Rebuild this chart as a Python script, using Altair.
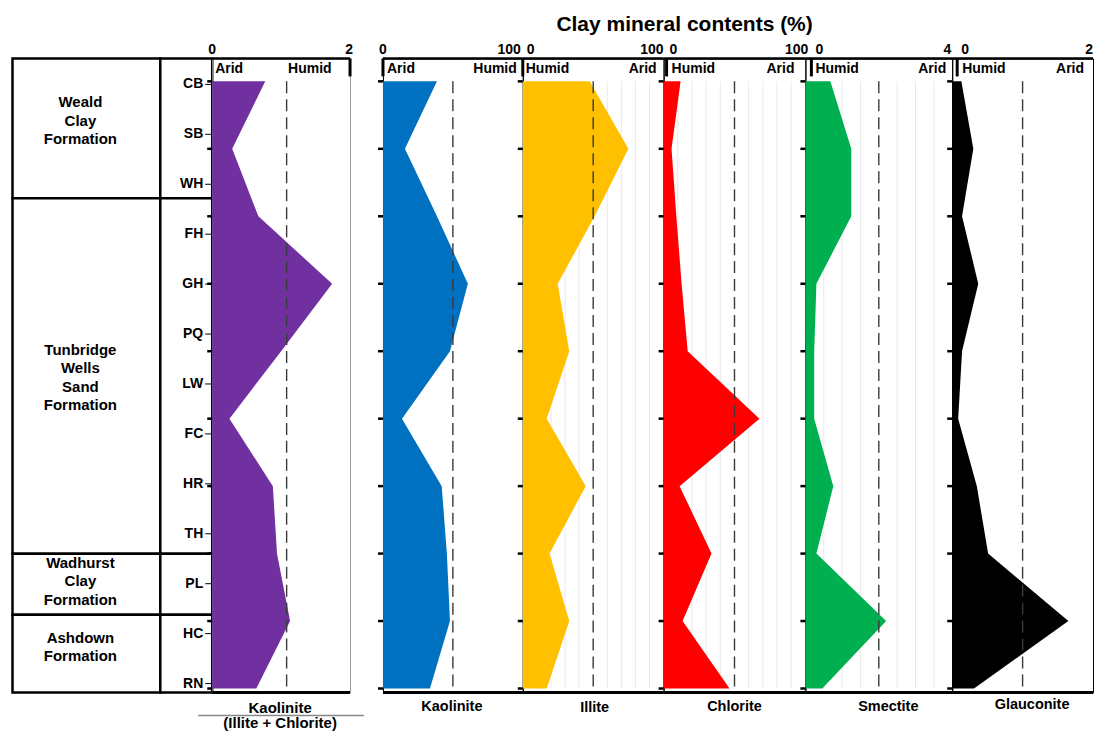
import altair as alt
import pandas as pd

FONT = "Liberation Sans"
H = 635

# ---------------- data ----------------
samples = ["CB", "SB", "WH", "FH", "GH", "PQ", "LW", "FC", "HR", "TH", "PL", "HC", "RN"]
sample_rows = list(range(13))
levels = list(range(10))

kao_ratio = [0.77, 0.29, 0.67, 1.74, 1.00, 0.25, 0.88, 0.94, 1.13, 0.64]
kaolinite = [38.6, 15.7, 38.6, 60.7, 47.9, 13.6, 42.0, 45.7, 47.9, 33.6]
illite = [47.5, 75.0, 51.0, 24.8, 33.0, 17.0, 44.7, 19.0, 33.0, 17.0]
chlorite = [12.0, 5.6, 9.0, 12.7, 17.0, 67.6, 11.3, 33.8, 13.4, 46.5]
smectite = [0.68, 1.25, 1.25, 0.30, 0.24, 0.24, 0.76, 0.30, 2.20, 0.46]
glauconite = [0.13, 0.30, 0.14, 0.37, 0.14, 0.085, 0.35, 0.51, 1.65, 0.31]

formation_text = ["Weald\nClay\nFormation", "Tunbridge\nWells\nSand\nFormation",
                  "Wadhurst\nClay\nFormation", "Ashdown\nFormation"]
formation_top = [-0.52, 2.28, 9.40, 10.62]
formation_bottom = [2.28, 9.40, 10.62, 12.18]
formation_first_line = [0.36, 5.32, 9.58, 11.08]

illite_grid = [10, 20, 30, 40, 60, 70, 80, 90]
chlorite_grid = [10, 20, 30, 40, 60, 70, 80, 90]
smectite_grid = [0.5, 1.0, 1.5, 2.5, 3.0, 3.5]

Y_LVL = dict(domain=[-0.34, 9.06], reverse=True, nice=False, zero=False)
Y_SMP = dict(domain=[-0.52, 12.18], reverse=True, nice=False, zero=False)

one = pd.DataFrame({"k": [0]})


def tstyle(**kw):
    d = dict(font=FONT, fontWeight="bold", fontSize=14, color="black")
    d.update(kw)
    return d


# ---------------- formation column ----------------
fdf = pd.DataFrame({"label": formation_text, "top": formation_top,
                    "bottom": formation_bottom, "first": formation_first_line})
f_boxes = alt.Chart(fdf).mark_rect(fill="white", stroke="black", strokeWidth=2.5).encode(
    x=alt.value(0), x2=alt.value(148),
    y=alt.Y("top:Q", scale=alt.Scale(**Y_SMP), axis=None), y2="bottom:Q")
f_text = alt.Chart(fdf).mark_text(lineBreak="\n", lineHeight=18.5, align="center",
                                  baseline="middle", **tstyle(fontSize=15)).encode(
    x=alt.value(68), y=alt.Y("first:Q", scale=alt.Scale(**Y_SMP), axis=None), text="label:N")
formation_panel = alt.layer(f_boxes, f_text).properties(width=148, height=H)

# ---------------- sample column ----------------
sdf = pd.DataFrame({"sample": samples, "row": sample_rows})
s_boxes = alt.Chart(fdf).mark_rect(fill="white", stroke="black", strokeWidth=2.5).encode(
    x=alt.value(0), x2=alt.value(52),
    y=alt.Y("top:Q", scale=alt.Scale(**Y_SMP), axis=None), y2="bottom:Q")
s_tick = alt.Chart(sdf).mark_rule(color="black", strokeWidth=1).encode(
    x=alt.value(45), x2=alt.value(52),
    y=alt.Y("row:Q", scale=alt.Scale(**Y_SMP), axis=None))
s_text = alt.Chart(sdf).mark_text(align="right", baseline="middle", **tstyle()).encode(
    x=alt.value(43), y=alt.Y("row:Q", scale=alt.Scale(**Y_SMP), axis=None), text="sample:N")
sample_panel = alt.layer(s_boxes, s_tick, s_text).properties(width=52, height=H)


# ---------------- mineral panels ----------------
def note(text, x, y, align="center", baseline="middle", **kw):
    return alt.Chart(one).mark_text(text=text, align=align, baseline=baseline, **tstyle(**kw)).encode(
        x=alt.value(x), y=alt.value(y))


def mineral_panel(values, xmax, thr, color, width, scale_labels, headers, seps, bottom_notes,
                  grid=None, stroke="black", extra=None):
    xs = alt.Scale(domain=[0, xmax], nice=False, zero=True)
    ys = alt.Scale(**Y_LVL)
    layers = []
    if grid:
        gdf = pd.DataFrame({"g": grid})
        layers.append(alt.Chart(gdf).mark_rule(color="#e9e9e9", strokeWidth=1).encode(
            x=alt.X("g:Q", scale=xs, axis=None),
            y=alt.YDatum(0, scale=ys, axis=None), y2=alt.Y2Datum(9)))
    df = pd.DataFrame({"level": levels, "value": values})
    layers.append(alt.Chart(df).mark_area(orient="horizontal", color=color, opacity=1).encode(
        x=alt.X("value:Q", scale=xs, stack=None, axis=None),
        y=alt.Y("level:Q", scale=ys, axis=None)))
    # depth ticks on the left edge
    layers.append(alt.Chart(df).mark_rule(color="black", strokeWidth=2.5).encode(
        x=alt.value(-5), x2=alt.value(0), y=alt.Y("level:Q", scale=ys, axis=None)))
    tdf = pd.DataFrame({"t": [thr]})
    layers.append(alt.Chart(tdf).mark_rule(color="#3a3a3a", strokeWidth=1.4, strokeDash=[12, 6]).encode(
        x=alt.X("t:Q", scale=xs, axis=None),
        y=alt.YDatum(0, scale=ys, axis=None), y2=alt.Y2Datum(9)))
    # top scale line and labels
    layers.append(alt.Chart(one).mark_rule(color="black", strokeWidth=2.5).encode(
        x=alt.value(0), x2=alt.value(width), y=alt.value(0)))
    for (val, al, dx) in scale_labels:
        layers.append(alt.Chart(one).mark_text(text=f"{val:g}", align=al, baseline="alphabetic",
                                               dx=dx, **tstyle()).encode(
            x=alt.XDatum(val, scale=xs, axis=None), y=alt.value(-4)))
    for sx in seps:
        layers.append(alt.Chart(one).mark_rule(color="black", strokeWidth=3).encode(
            x=alt.value(sx), y=alt.value(0), y2=alt.value(18)))
    layers.append(alt.Chart(one).mark_rule(color="black", strokeWidth=3).encode(
        x=alt.value(0), x2=alt.value(width), y=alt.value(H)))
    for (t, x, al) in headers:
        layers.append(note(t, x, 11, align=al))
    for (t, x, y, fs) in bottom_notes:
        layers.append(note(t, x, y, fontSize=fs))
    if extra:
        layers.extend(extra)
    return alt.layer(*layers).properties(
        width=width, height=H, view=alt.ViewBackground(stroke=stroke, strokeWidth=1))


frac_line = alt.Chart(one).mark_rule(color="#888888", strokeWidth=1.5).encode(
    x=alt.value(-14), x2=alt.value(152), y=alt.value(658))

p1 = mineral_panel(kao_ratio, 2, 1.08, "#7030A0", 138,
                   [(0, "center", 0), (2, "center", -1)],
                   [("Arid", 3, "left"), ("Humid", 76, "left")], [138],
                   [("Kaolinite", 68, 650, 15), ("(Illite + Chlorite)", 68, 665.5, 15)],
                   stroke="#999999", extra=[frac_line])

spacer = alt.Chart(one).mark_point(opacity=0).encode(
    x=alt.value(0), y=alt.value(0)).properties(width=33, height=H)

p2 = mineral_panel(kaolinite, 100, 50, "#0070C0", 140,
                   [(0, "center", 0), (100, "right", -2)],
                   [("Arid", 4, "left"), ("Humid", 134, "right")], [0],
                   [("Kaolinite", 69, 649, 14.5)])
p3 = mineral_panel(illite, 100, 50, "#FFC000", 141,
                   [(0, "left", 4), (100, "right", 0)],
                   [("Humid", 3, "left"), ("Arid", 134, "right")], [0],
                   [("Illite", 72, 650, 14.5)], grid=illite_grid)
title_txt = note("Clay mineral contents (%)", 21, -27, baseline="alphabetic", fontSize=21)
p4 = mineral_panel(chlorite, 100, 50, "#FF0000", 142,
                   [(0, "left", 6), (100, "right", 3)],
                   [("Humid", 8, "left"), ("Arid", 131, "right")], [3],
                   [("Chlorite", 71, 649, 14.5)], grid=chlorite_grid, extra=[title_txt])
p5 = mineral_panel(smectite, 4, 2, "#00B050", 147,
                   [(0, "left", 10), (4, "right", -1)],
                   [("Humid", 10, "left"), ("Arid", 141, "right")], [6],
                   [("Smectite", 83, 649, 14.5)], grid=smectite_grid)
p6 = mineral_panel(glauconite, 2, 1.0, "#000000", 141,
                   [(0, "left", 9), (2, "right", 0)],
                   [("Humid", 10, "left"), ("Arid", 132, "right")], [5],
                   [("Glauconite", 80, 647, 14.5)])

chart = alt.hconcat(formation_panel, sample_panel, p1, spacer, p2, p3, p4, p5, p6,
                    spacing=0, bounds="flush").properties(
    padding={"left": 2.5, "top": 5, "right": 0, "bottom": 0}
).configure_view(stroke=None)

chart.save("out.html", embed_options={"renderer": "svg", "actions": False})
